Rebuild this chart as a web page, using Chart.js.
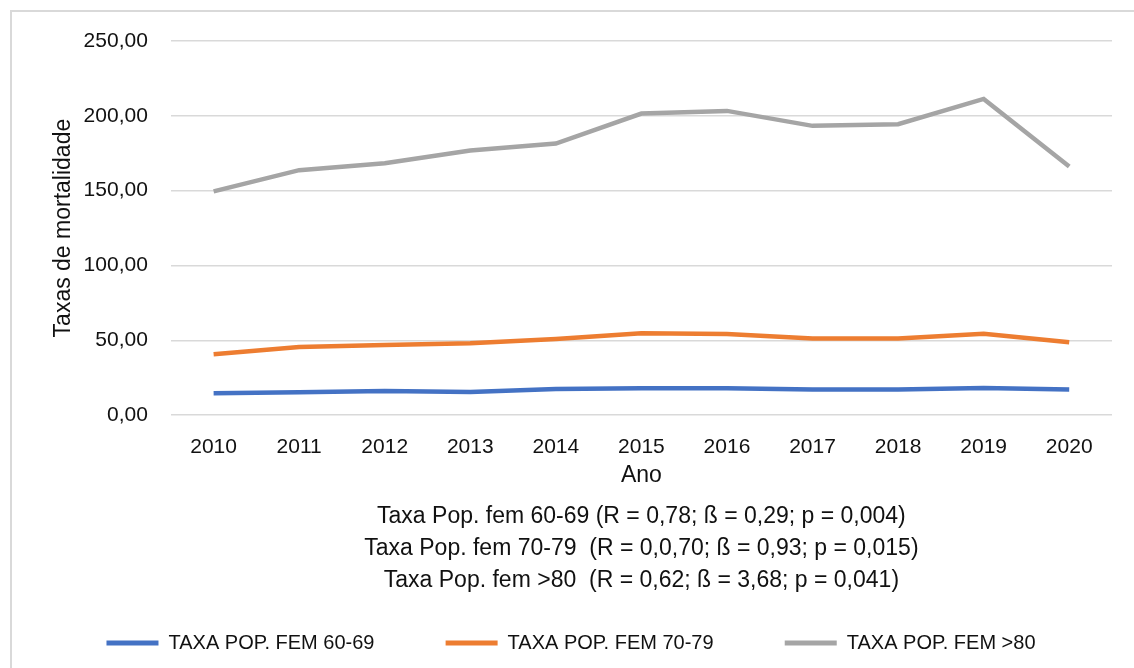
<!DOCTYPE html>
<html>
<head>
<meta charset="utf-8">
<script src="https://cdn.jsdelivr.net/npm/chart.js@4/dist/chart.umd.min.js"></script>
<style>
  body { margin: 0; background: #fff; }
  #frame { position: absolute; left: 10px; top: 10px; width: 1200px; height: 700px; border: 2px solid #d9d9d9; box-sizing: border-box; }
  #wrap { position: absolute; left: 0; top: 0; width: 1134px; height: 668px; }
</style>
</head>
<body>
<div id="frame"></div>
<div id="wrap"><canvas id="chart"></canvas></div>
<script>
// anos
var anos = ["2010", "2011", "2012", "2013", "2014", "2015", "2016", "2017", "2018", "2019", "2020"];

// taxas por faixa etaria
var taxa6069 = [14.7, 15.3, 16.2, 15.5, 17.5, 18.0, 18.0, 17.1, 17.1, 18.2, 17.1];
var taxa7079 = [40.7, 45.5, 46.9, 48.0, 50.9, 54.7, 54.2, 51.3, 51.3, 54.4, 48.7];
var taxa80 = [149.5, 163.7, 168.4, 176.9, 181.5, 201.5, 203.3, 193.3, 194.4, 211.3, 166.2];

var legendas = ["TAXA POP. FEM 60-69", "TAXA POP. FEM 70-79", "TAXA POP. FEM >80"];
var notas = [
  "Taxa Pop. fem 60-69 (R = 0,78; \u00df = 0,29; p = 0,004)",
  "Taxa Pop. fem 70-79  (R = 0,0,70; \u00df = 0,93; p = 0,015)",
  "Taxa Pop. fem >80  (R = 0,62; \u00df = 3,68; p = 0,041)",
];

var fonte = "'Liberation Sans', Arial, sans-serif";
Chart.defaults.font.family = fonte;
Chart.defaults.color = "#111";

function serie(label, data, cor) {
  return {
    label: label,
    data: data,
    borderColor: cor,
    backgroundColor: cor,
    borderWidth: 4.5,
    pointRadius: 0,
    tension: 0,
  };
}

var ctx = document.getElementById("chart");
new Chart(ctx, {
  type: "line",
  data: {
    labels: anos,
    datasets: [
      serie(legendas[0], taxa6069, "#4472C4"),
      serie(legendas[1], taxa7079, "#ED7D31"),
      serie(legendas[2], taxa80, "#A5A5A5"),
    ],
  },
  options: {
    responsive: true,
    maintainAspectRatio: false,
    animation: false,
    layout: {
      padding: { top: 41, left: 30, right: 22, bottom: 5 },
    },
    plugins: {
      legend: {
        display: true,
        position: "bottom",
        weight: 1000,
        labels: {
          boxWidth: 52,
          boxHeight: 5,
          padding: 10,
          font: { size: 20 },
          generateLabels: function (chart) {
            var items = Chart.defaults.plugins.legend.labels.generateLabels(chart);
            return items.map(function (it, i) {
              it.lineWidth = 0;
              if (i < 2) it.text = it.text + "           ";
              return it;
            });
          },
        },
      },
      subtitle: {
        display: true,
        position: "bottom",
        fullSize: false,
        weight: 500,
        text: notas,
        color: "#111",
        font: { size: 23, lineHeight: 32 / 23 },
        padding: { top: 12, bottom: 26 },
      },
      tooltip: { enabled: false },
    },
    scales: {
      x: {
        offset: true,
        grid: { display: false },
        border: { display: false },
        ticks: { font: { size: 21 }, padding: 11, maxRotation: 0 },
        title: {
          display: true,
          text: "Ano",
          font: { size: 23 },
          padding: { top: -9, bottom: 0 },
        },
      },
      y: {
        min: 0,
        max: 250,
        grid: { color: "#d9d9d9", lineWidth: 1.5, drawTicks: false },
        border: { display: false },
        ticks: {
          stepSize: 50,
          padding: 23,
          font: { size: 21 },
          callback: function (v) {
            return v.toFixed(2).replace(".", ",");
          },
        },
        title: {
          display: true,
          text: "Taxas de mortalidade",
          font: { size: 23 },
          padding: { top: 20, bottom: -17 },
        },
      },
    },
  },
});
</script>
</body>
</html>
